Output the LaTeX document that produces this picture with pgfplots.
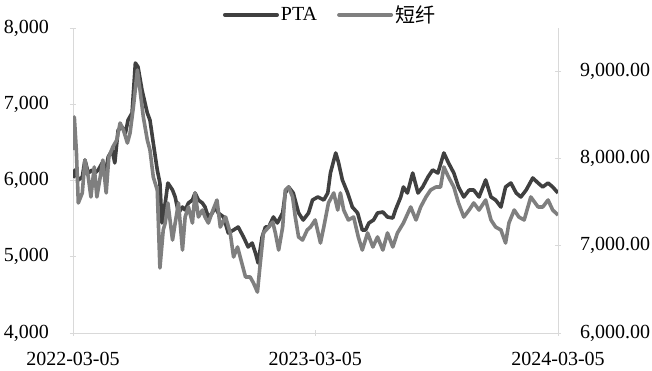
\documentclass[border=0pt]{standalone}
\usepackage{fontspec}
\setmainfont{Liberation Serif}
\newfontfamily\cjk{Noto Sans CJK SC}
\usepackage{pgfplots}
\pgfplotsset{compat=1.18}
\usepackage{pgfplotstable}
\definecolor{ptac}{HTML}{404040}
\definecolor{dxc}{HTML}{7F7F7F}
\definecolor{axc}{HTML}{D9D9D9}
\pgfplotstableread{
d v
0 6033
3 6138
8 6007
14 6046
18 6269
23 6098
29 6138
33 6098
38 6138
44 6230
48 6046
53 6308
59 6400
63 6230
68 6662
74 6702
79 6623
83 6793
89 6885
94 7541
98 7489
104 7187
112 6885
116 6793
121 6492
127 6138
131 5967
134 5443
139 5705
143 5967
150 5875
154 5784
159 5574
165 5652
169 5613
174 5705
180 5744
184 5836
189 5744
195 5705
199 5652
204 5521
210 5574
214 5652
219 5574
227 5521
234 5312
242 5351
249 5390
257 5259
264 5128
270 5180
275 5049
279 4918
285 5259
290 5390
295 5390
302 5521
308 5443
316 5574
320 5836
325 5915
332 5836
340 5574
347 5482
355 5574
361 5744
369 5784
378 5744
384 5836
388 6098
396 6361
400 6243
406 6007
414 5836
421 5652
429 5574
436 5351
441 5351
446 5443
453 5482
459 5574
467 5587
474 5521
482 5508
486 5613
494 5784
498 5915
504 5836
512 6098
520 5836
527 5915
535 6046
542 6138
550 6098
559 6361
566 6230
574 6098
581 5915
589 5784
597 5875
604 5875
612 5784
622 6007
630 5784
637 5744
645 5652
652 5915
660 5967
668 5836
675 5784
683 5875
693 6033
701 5967
708 5915
716 5967
723 5915
731 5836
}\ptatable
\pgfplotstableread{
d v
0 8100
2 8479
5 8100
8 7492
14 7607
18 7985
23 7790
27 7561
32 7905
36 7561
41 7790
45 7985
50 7607
54 8020
60 8134
66 8215
71 8410
76 8329
82 8180
86 8295
91 8593
97 9018
101 8788
106 8479
112 8215
116 8100
121 7790
127 7641
131 6746
136 7182
139 7262
143 7492
150 7067
154 7262
159 7492
165 6952
169 7331
174 7446
180 7262
184 7607
189 7331
195 7411
199 7331
204 7262
211 7411
217 7526
222 7216
230 7331
237 7148
242 6872
248 6987
252 6872
260 6643
267 6643
272 6574
278 6470
282 6780
287 7148
295 7216
301 7274
305 7148
310 6952
316 7216
320 7641
325 7675
331 7561
335 7331
340 7102
346 7067
353 7182
358 7216
365 7297
373 7033
378 7216
385 7492
393 7607
399 7411
403 7607
408 7411
415 7297
423 7331
430 7102
436 6952
444 7148
452 6987
459 7102
467 6952
474 7148
482 6987
489 7148
498 7262
509 7446
517 7297
524 7446
532 7561
539 7641
547 7675
554 7675
559 7905
566 7790
574 7675
581 7492
589 7331
597 7411
604 7492
612 7411
622 7526
630 7297
637 7216
645 7182
652 7033
657 7262
665 7411
672 7331
680 7297
690 7561
701 7446
708 7446
716 7526
723 7411
731 7354
}\dxtable
\begin{document}
\begin{tikzpicture}
\pgfplotsset{
  common/.style={
    at={(73bp,38bp)}, anchor=south west,
    scale only axis, width=485bp, height=305bp,
    xmin=0, xmax=731,
    tick align=inside,
    major tick length=6bp,
    tick style={axc, line width=0.8bp},
    axis line style={axc, line width=0.8bp},
    ticklabel style={font=\fontsize{20bp}{24bp}\selectfont, inner sep=0pt},
    /pgf/number format/1000 sep={,},
    /pgf/number format/assume math mode=true,
    clip=true,
  }
}
\begin{axis}[common,
  axis x line=bottom, axis y line=left,
  x axis line style={-}, y axis line style={-},
  ymin=4000, ymax=8000,
  ytick={4000,5000,6000,7000,8000},
  yticklabel style={anchor=east, xshift=-21bp},
  xtick={0,365,731},
  xticklabels={2022-03-05,2023-03-05,2024-03-05},
  xticklabel style={anchor=north, yshift=-16bp},
]
\addplot[ptac, line width=3.6bp, line join=round] table[x=d, y=v] {\ptatable};
\end{axis}
\begin{axis}[common,
  axis x line=none, axis y line=right,
  y axis line style={-},
  ymin=6000, ymax=9500,
  ytick={6000,7000,8000,9000},
  /pgf/number format/fixed,
  /pgf/number format/fixed zerofill,
  /pgf/number format/precision=2,
  yticklabel style={anchor=west, xshift=19bp},
  legend style={at={(0.53,1.043)}, anchor=center, draw=none, fill=none,
    font=\fontsize{20bp}{24bp}\selectfont, inner sep=0pt,
    /tikz/every even column/.append style={column sep=18bp}},
  legend columns=2,
  legend image code/.code={\draw[#1, line width=4bp, line cap=round] (0bp,0bp) -- (52bp,0bp);},
]
\addlegendimage{ptac}
\addlegendentry{PTA}
\addplot[dxc, line width=3.6bp, line join=round] table[x=d, y=v] {\dxtable};
\addlegendentry{{\cjk 短纤}}
\end{axis}
\pgfresetboundingbox
\path (0bp,0bp) rectangle (652bp,371bp);
\end{tikzpicture}
\end{document}
